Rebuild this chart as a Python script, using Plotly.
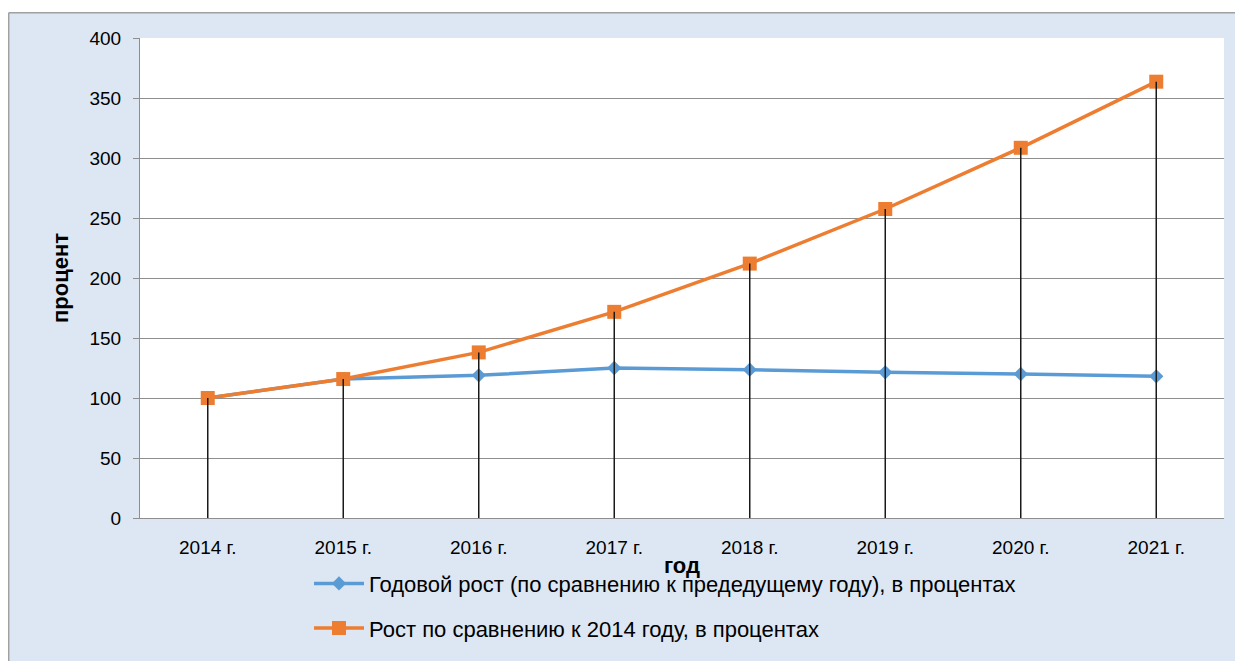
import plotly.graph_objects as go

years = ["2014 г.", "2015 г.", "2016 г.", "2017 г.", "2018 г.", "2019 г.", "2020 г.", "2021 г."]
annual_growth = [100, 115.8, 118.9, 125.0, 123.6, 121.4, 120.0, 118.1]
growth_vs_2014 = [100, 115.8, 138.0, 171.8, 212.0, 257.5, 308.5, 363.6]

name_annual = "Годовой рост (по сравнению к предедущему году), в процентах"
name_cum = "Рост по сравнению к 2014 году, в процентах"

FONT = "Liberation Sans, Arial, sans-serif"
BG = "#dce7f3"
GRID = "#8e8e8e"

OFF = 8  # page body margin
W, H = 1243 - OFF, 661 - OFF
ML, MR, MT, MB = 140 - OFF, 19, 38 - OFF, 140
pw = W - ML - MR
ph = H - MT - MB


def px_x(p):
    return (p - OFF - ML) / pw


def px_y(p):
    return (H - MB - (p - OFF)) / ph


fig = go.Figure()
fig.add_trace(go.Scatter(
    x=years, y=annual_growth, name=name_annual, mode="lines+markers",
    line=dict(color="#5b9bd5", width=3.5),
    marker=dict(symbol="diamond", size=11, color="#5b9bd5"),
    legend="legend",
))
fig.add_trace(go.Scatter(
    x=years, y=growth_vs_2014, name=name_cum, mode="lines+markers",
    line=dict(color="#ed7d31", width=3.5),
    marker=dict(symbol="square", size=14, color="#ed7d31"),
    legend="legend2",
))

# drop lines from the cumulative series down to the axis
dx, dy = [], []
for c, v in zip(years, growth_vs_2014):
    dx += [c, c, None]
    dy += [0, v, None]
fig.add_trace(go.Scatter(x=dx, y=dy, mode="lines", showlegend=False,
                         line=dict(color="#1a1a1a", width=1.5), hoverinfo="skip"))

shapes = [
    dict(type="rect", xref="paper", yref="paper", x0=px_x(0), x1=px_x(1300), y0=px_y(12.5), y1=px_y(0),
         fillcolor="white", line=dict(width=0), layer="below"),
    dict(type="line", xref="paper", yref="paper", x0=px_x(8.7), x1=px_x(1300), y0=px_y(12.5), y1=px_y(12.5),
         line=dict(color="#a0a0a0", width=1.5)),
    dict(type="line", xref="paper", yref="paper", x0=px_x(8.7), x1=px_x(8.7), y0=px_y(12.5), y1=px_y(700),
         line=dict(color="#a0a0a0", width=1.5)),
]

fig.update_layout(
    width=W, height=H,
    margin=dict(l=ML, r=MR, t=MT, b=MB),
    paper_bgcolor=BG, plot_bgcolor="white",
    font=dict(family=FONT, size=19, color="#000000"),
    shapes=shapes,
    legend=dict(x=px_x(309), y=px_y(587), xanchor="left", yanchor="middle",
                bgcolor="rgba(0,0,0,0)", font=dict(size=22), itemwidth=50),
    legend2=dict(x=px_x(309), y=px_y(632), xanchor="left", yanchor="middle",
                 bgcolor="rgba(0,0,0,0)", font=dict(size=22), itemwidth=50),
    xaxis=dict(
        type="category", range=[-0.5, len(years) - 0.5],
        showgrid=False, showline=True, linecolor=GRID, linewidth=1,
        ticks="", tickfont=dict(size=19), ticklabelstandoff=12,
        title=dict(text="<b>год</b>", font=dict(size=22), standoff=0),
    ),
    yaxis=dict(
        range=[0, 400], dtick=50, showgrid=True, gridcolor=GRID, gridwidth=1,
        showline=True, linecolor=GRID, linewidth=1, ticks="outside", ticklen=6, tickcolor=GRID,
        tickfont=dict(size=19), zeroline=False, ticklabelstandoff=8,
        title=dict(text="<b>процент</b>", font=dict(size=22), standoff=14),
    ),
)

fig.write_html("out.html")
